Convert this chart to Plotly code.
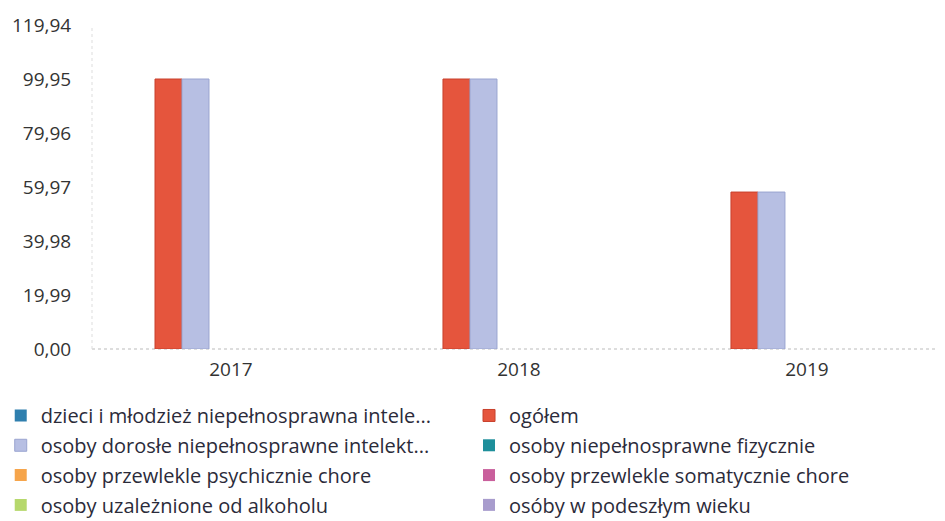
import plotly.graph_objects as go

years = ["2017", "2018", "2019"]
series_names = [
    "dzieci i młodzież niepełnosprawna intele...",
    "ogółem",
    "osoby dorosłe niepełnosprawne intelekt...",
    "osoby niepełnosprawne fizycznie",
    "osoby przewlekle psychicznie chore",
    "osoby przewlekle somatycznie chore",
    "osoby uzależnione od alkoholu",
    "osóby w podeszłym wieku",
]
dzieci = [0, 0, 0]
ogolem = [99.95, 99.95, 58.1]
dorosle = [99.95, 99.95, 58.1]
fizycznie = [0, 0, 0]
psychicznie = [0, 0, 0]
somatycznie = [0, 0, 0]
alkohol = [0, 0, 0]
wiek = [0, 0, 0]
series_values = [dzieci, ogolem, dorosle, fizycznie, psychicznie, somatycznie, alkohol, wiek]
colors = ["#2f7fae", "#e5553d", "#b7bfe3", "#1e8f9b", "#f6a54b", "#c95f9c", "#b6d86c", "#a89ccd"]
line_colors = ["#1f6a94", "#c8402c", "#9aa4d0", "#16767f", "#e08c30", "#ad4a84", "#9cc055", "#8e82b8"]
legend_ids = ["legend", "legend2", "legend", "legend2", "legend", "legend2", "legend", "legend2"]

tick_vals = [0, 19.99, 39.98, 59.97, 79.96, 99.95, 119.94]
tick_text = ["0,00", "19,99", "39,98", "59,97", "79,96", "99,95", "119,94"]

fig = go.Figure()
for i, (name, vals, c, lc, lg) in enumerate(zip(series_names, series_values, colors, line_colors, legend_ids)):
    fig.add_trace(go.Bar(x=years, y=vals, name=name, legend=lg, legendgroup="g%d" % i,
                         marker=dict(color=c,
                                     line=dict(color=lc, width=[1 if v > 0 else 0 for v in vals]))))

leg_common = dict(orientation="v", xanchor="left", yanchor="top", y=-0.145,
                  traceorder="grouped", tracegroupgap=0.8,
                  font=dict(family="Open Sans", size=20, color="#2b2b3a"),
                  itemclick=False, bgcolor="rgba(0,0,0,0)")

fig.update_layout(
    width=937, height=513,
    margin=dict(l=84, r=0, t=17, b=172, autoexpand=False),
    barmode="group", bargap=0.25, bargroupgap=0,
    plot_bgcolor="white", paper_bgcolor="white",
    font=dict(family="Open Sans", size=19, color="#333333"),
    showlegend=True,
    legend=dict(x=-0.107, **leg_common),
    legend2=dict(x=0.442, **leg_common),
    xaxis=dict(range=[-0.5, 2.462], showgrid=False, showline=False, zeroline=False,
               ticks="outside", ticklen=3, tickcolor="rgba(0,0,0,0)",
               ticklabelshift=-5,
               tickfont=dict(size=19, color="#333333")),
    yaxis=dict(range=[0, 119.94], tickvals=tick_vals, ticktext=tick_text,
               showgrid=False, zeroline=False, showline=False,
               ticks="outside", ticklen=16, tickcolor="rgba(0,0,0,0)",
               tickfont=dict(size=19, color="#333333")),
    shapes=[
        dict(type="line", xref="paper", yref="paper", x0=0, x1=1, y0=0, y1=0,
             line=dict(color="#bbbbbb", width=1, dash="dot"), layer="below"),
        dict(type="line", xref="paper", yref="paper", x0=0, x1=0, y0=0, y1=1,
             line=dict(color="#dddddd", width=1, dash="dot"), layer="below"),
    ],
)

fig.write_html("out.html")
